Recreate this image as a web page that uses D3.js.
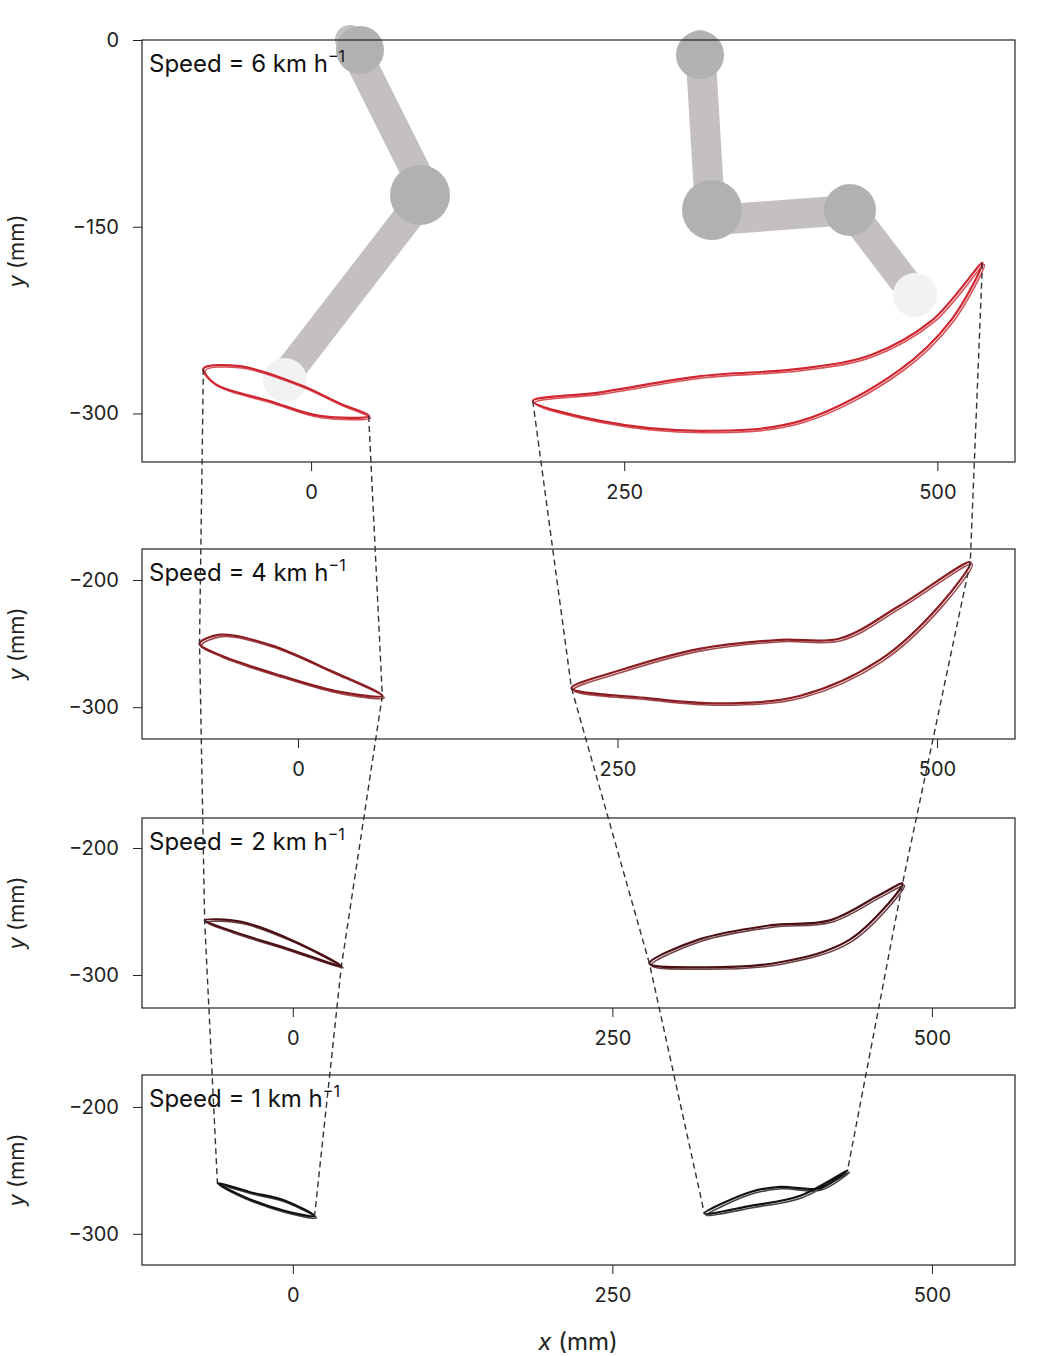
<!DOCTYPE html>
<html><head><meta charset="utf-8">
<script src="https://cdn.jsdelivr.net/npm/d3@7"></script>
<style>body{margin:0;background:#fff}text{font-family:Inter,"Noto Sans",sans-serif}</style>
</head><body><svg id="c" width="1053" height="1356"></svg>
<script>
const speeds=[6,4,2,1];
const colors=["#cf2530","#8a1c22","#4b1014","#111111"];
const xTicks=[0,250,500];
const yTicksList=[[0,-150,-300],[-200,-300],[-200,-300],[-200,-300]];
const leftLoops=[
 [[-86,-264],[-57,-262],[-9,-277],[23,-292],[46,-302],[7,-302],[-33,-290],[-77,-276]],
 [[-77,-250],[-61,-243],[-22,-251],[25,-271],[66,-291],[33,-288],[-14,-275],[-61,-259]],
 [[-69,-257],[-41,-258],[-2,-272],[38,-293],[-2,-280],[-49,-265]],
 [[-59,-260],[-34,-267],[-6,-274],[17,-286],[-6,-282],[-38,-271]]
];
const rightLoops=[
 [[177,-290],[231,-283],[311,-270],[391,-264],[447,-253],[496,-225],[536,-179],[511,-225],[470,-265],[391,-306],[311,-314],[231,-306]],
 [[214,-285],[252,-271],[315,-254],[377,-247],[424,-246],[471,-220],[526,-186],[502,-220],[455,-263],[393,-291],[330,-297],[275,-293]],
 [[279,-291],[318,-272],[373,-261],[420,-257],[459,-237],[477,-228],[436,-272],[381,-290],[318,-294]],
 [[322,-284],[358,-267],[381,-263],[412,-264],[434,-250],[397,-270],[358,-278]]
];
const svg=d3.select("#c");
const panels=[
 {top:40,bot:462,xd:[-135,562],yd:[0,-339]},
 {top:549,bot:739,xd:[-122,561],yd:[-175.6,-325]},
 {top:818,bot:1008,xd:[-118,565],yd:[-176.4,-326]},
 {top:1075,bot:1265,xd:[-118,565],yd:[-174.8,-324.6]}
];
const L=142,R=1015;
const rb=svg.append("g").attr("opacity",0.45);
[[[350,40],[425,190]],[[425,195],[290,370]],[[700,45],[710,210]],[[715,220],[850,210]],[[850,210],[915,295]]].forEach(s=>{
 rb.append("line").attr("x1",s[0][0]).attr("y1",s[0][1]).attr("x2",s[1][0]).attr("y2",s[1][1]).attr("stroke","#7d7575").attr("stroke-width",30).attr("stroke-linecap","round");});
[[420,195,30],[712,210,30],[850,210,26],[285,380,22],[915,295,22],[360,50,24],[700,55,24]].forEach(c=>rb.append("circle").attr("cx",c[0]).attr("cy",c[1]).attr("r",c[2]).attr("fill",c[2]<23?"#e4e4e4":"#555"));
const tips=[[],[],[],[]];
panels.forEach((p,i)=>{
 const x=d3.scaleLinear().domain(p.xd).range([L,R]);
 const y=d3.scaleLinear().domain(p.yd).range([p.top,p.bot]);
 const g=svg.append("g");
 g.append("rect").attr("x",L).attr("y",p.top).attr("width",R-L).attr("height",p.bot-p.top).attr("fill","none").attr("stroke","#222").attr("stroke-width",1.2);
 const ya=g.append("g").attr("transform",`translate(${L},0)`).call(d3.axisLeft(y).tickValues(yTicksList[i]).tickSize(9).tickPadding(14).tickFormat(d=>d<0?"−"+(-d):d));
 ya.select(".domain").remove();
 const xa=g.append("g").attr("transform",`translate(0,${p.bot})`).call(d3.axisBottom(x).tickValues(xTicks).tickSize(9).tickPadding(14));
 xa.select(".domain").remove();
 g.selectAll(".tick text").attr("font-size",20).attr("fill","#222").style("font-family","Inter");
 g.selectAll(".tick line").attr("stroke","#222");
 g.append("text").attr("transform",`translate(24,${(p.top+p.bot)/2}) rotate(-90)`).attr("text-anchor","middle").attr("font-size",22).attr("fill","#222")
  .html('<tspan font-style="italic">y</tspan> (mm)');
 g.append("text").attr("x",149).attr("y",p.top+32).attr("font-size",24).attr("fill","#111")
  .html(`Speed = ${speeds[i]} km h<tspan dy="-10" font-size="16">−1</tspan>`);
 const line=d3.line().x(d=>x(d[0])).y(d=>y(d[1])).curve(d3.curveCatmullRomClosed.alpha(0.5));
 [leftLoops[i],rightLoops[i]].forEach((lp,k)=>{
  g.append("path").attr("d",line(lp)).attr("fill","none").attr("stroke",colors[i]).attr("stroke-width",2.2);
  g.append("path").attr("d",line(lp.map(d=>[d[0]+1.5,d[1]-1.5]))).attr("fill","none").attr("stroke",colors[i]).attr("stroke-width",1.6).attr("opacity",0.8);
  const bIdx=k===0?(i<2?4:3):(i===0||i===1?6:(i===2?5:4));
  tips[i].push([x(lp[0][0]),y(lp[0][1])],[x(lp[bIdx][0]),y(lp[bIdx][1])]);
 });
});
for(let j=0;j<4;j++){
 svg.append("path").attr("d",d3.line()(tips.map(t=>t[j]))).attr("fill","none").attr("stroke","#333").attr("stroke-width",1.4).attr("stroke-dasharray","6,4");
}
svg.append("text").attr("x",578).attr("y",1350).attr("text-anchor","middle").attr("font-size",24).attr("fill","#222").html('<tspan font-style="italic">x</tspan> (mm)');
</script></body></html>
